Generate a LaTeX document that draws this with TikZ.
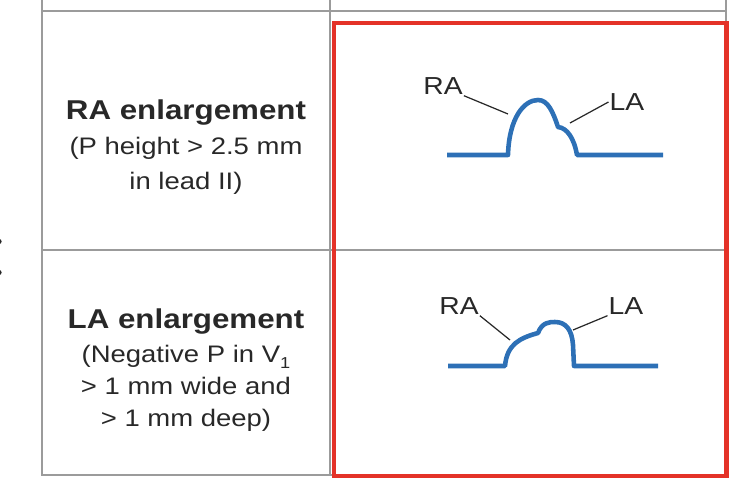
\documentclass[tikz,border=0pt]{standalone}
\usepackage{fontspec}
\setmainfont{Liberation Sans}[FakeStretch=1.15]
\definecolor{ecgblue}{RGB}{45,112,182}
\definecolor{gridgray}{RGB}{155,155,155}
\definecolor{boxred}{RGB}{228,50,40}
\definecolor{inkgray}{RGB}{40,40,40}

\begin{document}
\begin{tikzpicture}[x=0.02cm,y=-0.02cm,
  grid/.style={draw=gridgray,line width=1.6pt},
  wave/.style={draw=ecgblue,line width=2.6pt,line join=round},
  lead/.style={draw=inkgray,line width=0.7pt},
  lbl/.style={inner sep=0.5pt,text=inkgray,font=\fontsize{14}{16}\selectfont},
  cell/.style={align=center,text=inkgray,inner sep=0pt}]
\useasboundingbox (0,0) rectangle (750,483);
% table
\draw[grid] (42,0) -- (42,475) -- (726,475) -- (726,0) (330,0) -- (330,475)
  (42,11) -- (726,11) (42,250) -- (726,250);
\fill[inkgray] (-1,241.5) circle (1.5pt) (-1,272.5) circle (1.5pt);
% left column
\node[cell,font=\fontsize{13.6}{20}\selectfont] (ra_txt) at (186,147)
  {{\bfseries\fontsize{15.5}{18}\selectfont RA enlargement}\\(P height > 2.5 mm\\in lead II)};
\node[cell,font=\fontsize{13.6}{18.1}\selectfont] (la_txt) at (186,370)
  {{\bfseries\fontsize{15.5}{18}\selectfont LA enlargement}\\[1.7pt](Negative P in V\raisebox{-3pt}{\fontsize{9}{9}\selectfont 1}\\> 1 mm wide and\\> 1 mm deep)};
% P waves
\draw[wave] (447,155) -- (508,155) .. controls (509,118) and (524,100) .. (538,100)
  .. controls (548,100) and (553,112) .. (558,127)
  .. controls (567,128) and (574,138) .. (577,155) -- (663,155);
\draw[wave] (448,366) -- (505,366) .. controls (507,344) and (520,338) .. (538,333)
  .. controls (542,322) and (550,322) .. (555,322)
  .. controls (566,322) and (572,330) .. (573,345) -- (574,366) -- (658,366);
\node[lbl] (ra_1) at (443,86) {RA};
\node[lbl] (la_1) at (627,102) {LA};
\node[lbl] (ra_2) at (459,306) {RA};
\node[lbl] (la_2) at (626,306) {LA};
\coordinate (ra_1t) at (508,114);
\coordinate (la_1t) at (570,123);
\coordinate (ra_2t) at (510,340);
\coordinate (la_2t) at (573,330);
\draw[lead] (ra_1.south east) -- (ra_1t) (la_1.west) -- (la_1t)
  (ra_2.south east) -- (ra_2t) (la_2.south west) -- (la_2t);
% highlight
\draw[boxred,line width=2.3pt] (334,23) rectangle (726.5,476);
\end{tikzpicture}
\end{document}
